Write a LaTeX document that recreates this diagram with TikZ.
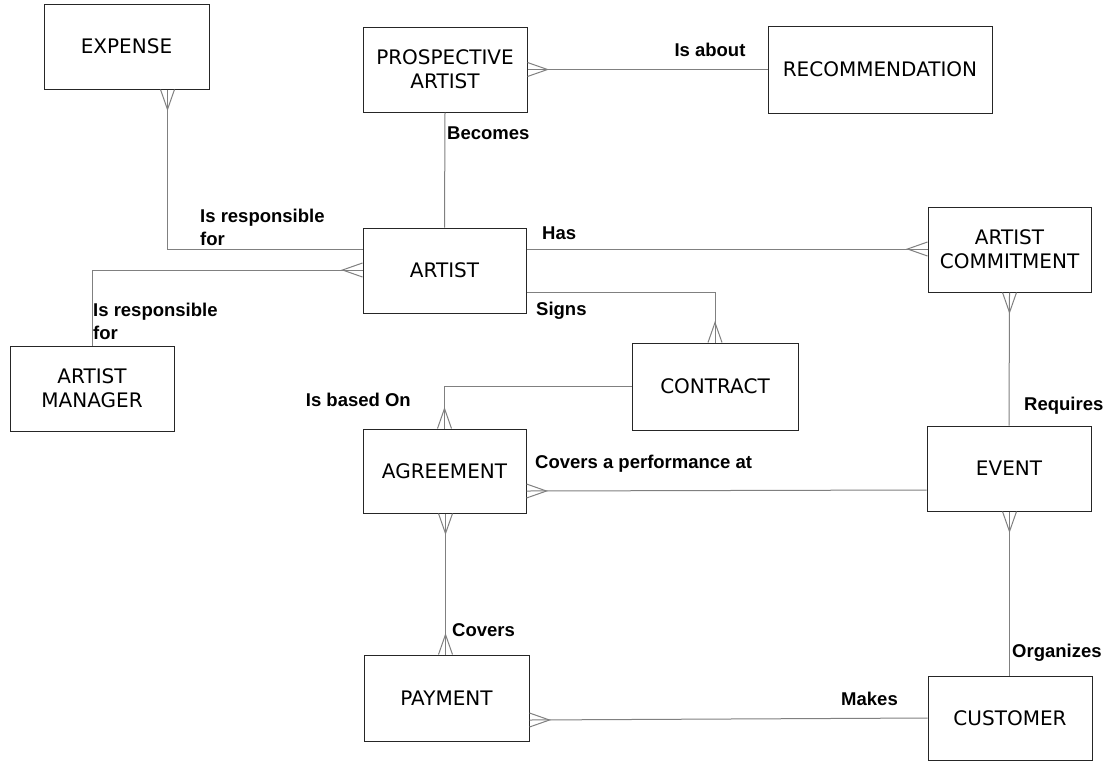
\documentclass[tikz,border=0pt]{standalone}
\usepackage{fontspec}
\setmainfont{DejaVu Sans}
\newfontfamily\lblfont{Liberation Sans}
\begin{document}
\begin{tikzpicture}[x=1pt,y=-1pt,
 ent/.style={draw=black!85, line width=1pt, fill=white, inner sep=0pt, align=center, font=\fontsize{20}{24}\selectfont},
 conn/.style={draw=black!50, line width=1pt},
 lbl/.style={font=\lblfont\bfseries\fontsize{18.5}{23}\selectfont, inner sep=0pt, align=left},
 crow/.pic={\draw[black!50, line width=1pt] (0,-7) -- (-20,0) -- (0,7);}
]
\fill[white] (0,0) rectangle (1105,761);
\useasboundingbox (0,0) rectangle (1105,761);

% entities
\node[ent, minimum width=165, minimum height=85] (expense) at (126.5,46.5) {EXPENSE};
\node[ent, minimum width=164, minimum height=85] (prosp) at (445,69.5) {PROSPECTIVE\\ARTIST};
\node[ent, minimum width=224, minimum height=87] (recom) at (880,69.5) {RECOMMENDATION};
\node[ent, minimum width=163, minimum height=85] (ac) at (1009.5,249.5) {ARTIST\\COMMITMENT};
\node[ent, minimum width=163, minimum height=85] (artist) at (444.5,270.5) {ARTIST};
\node[ent, minimum width=164, minimum height=85] (am) at (92,388.5) {ARTIST\\MANAGER};
\node[ent, minimum width=166, minimum height=87] (contract) at (715,386.5) {CONTRACT};
\node[ent, minimum width=163, minimum height=84] (agreement) at (444.5,471) {AGREEMENT};
\node[ent, minimum width=164, minimum height=85] (event) at (1009,468.5) {EVENT};
\node[ent, minimum width=165, minimum height=86] (payment) at (446.5,698) {PAYMENT};
\node[ent, minimum width=164, minimum height=84] (customer) at (1010,718) {CUSTOMER};

% connectors
\draw[conn] (expense.south -| 167.5,0) |- (artist.west |- 0,249);
\path (expense.south -| 167.5,0) pic[rotate=90] {crow};
\node[lbl, anchor=west] (l1) at (200,227) {Is responsible\\for};

\draw[conn] (am.north -| 92,0) |- (artist.west |- 0,270);
\path (artist.west |- 0,270) pic {crow};
\node[lbl, anchor=west] (l2) at (93,321) {Is responsible\\for};

\draw[conn] (prosp.south) -- (artist.north);
\node[lbl, anchor=west] (l3) at (447,133) {Becomes};

\draw[conn] (prosp.east) -- (recom.west);
\path (prosp.east) pic[rotate=180] {crow};
\node[lbl] (l4) at (710,50) {Is about};

\draw[conn] (artist.east |- 0,249) -- (ac.west |- 0,249);
\path (ac.west |- 0,249) pic {crow};
\node[lbl, anchor=west] (l5) at (542,233) {Has};

\draw[conn] (artist.east |- 0,292) -| (contract.north);
\path (contract.north) pic[rotate=-90] {crow};
\node[lbl, anchor=west] (l6) at (536,311) {Signs};

\draw[conn] (contract.west |- 0,386) -| (agreement.north);
\path (agreement.north) pic[rotate=-90] {crow};
\node[lbl, anchor=east] (l7) at (411,400) {Is based On};

\draw[conn] (event.west |- 0,490) -- (agreement.east |- 0,491);
\path (agreement.east |- 0,491) pic[rotate=180] {crow};
\node[lbl, anchor=west] (l8) at (535,464) {Covers a performance at};

\draw[conn] (ac.south) -- (event.north);
\path (ac.south) pic[rotate=90] {crow};
\node[lbl, anchor=west] (l9) at (1024,406) {Requires};

\draw[conn] (agreement.south -| 445.5,0) -- (payment.north -| 445.5,0);
\path (agreement.south -| 445.5,0) pic[rotate=90] {crow};
\path (payment.north -| 445.5,0) pic[rotate=-90] {crow};
\node[lbl, anchor=west] (l10) at (452,630) {Covers};

\draw[conn] (event.south -| 1009.5,0) -- (customer.north -| 1009.5,0);
\path (event.south -| 1009.5,0) pic[rotate=90] {crow};
\node[lbl, anchor=west] (l11) at (1012,653) {Organizes};

\draw[conn] (customer.west |- 0,718) -- (payment.east |- 0,720);
\path (payment.east |- 0,720) pic[rotate=180] {crow};
\node[lbl, anchor=east] (l12) at (898,699) {Makes};
\end{tikzpicture}
\end{document}
